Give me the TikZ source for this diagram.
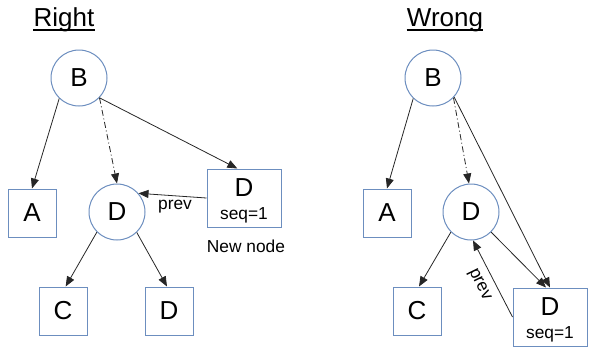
\documentclass[tikz,border=0pt]{standalone}
\usepackage{fontspec}
\setmainfont{Liberation Sans}
\usetikzlibrary{arrows.meta}
\definecolor{bblue}{HTML}{6C8EBF}
\begin{document}
\begin{tikzpicture}[x=0.75pt,y=-0.75pt,
 circ/.style={circle,draw=bblue,line width=0.75pt,minimum size=42pt,inner sep=0pt,font=\fontsize{19.5}{20}\selectfont},
 sq/.style={rectangle,draw=bblue,line width=0.75pt,minimum width=36pt,minimum height=36pt,inner sep=0pt,font=\fontsize{19.5}{20}\selectfont},
 newbox/.style={rectangle,draw=bblue,line width=0.75pt,minimum width=55.5pt,minimum height=43.5pt,inner sep=0pt},
 big/.style={inner sep=0pt,font=\fontsize{19.5}{20}\selectfont},
 lbl/.style={inner sep=0pt,font=\fontsize{13}{14}\selectfont},
 arr/.style={-{Triangle[length=7.5pt,width=6pt]},line width=0.6pt,draw=black!85},
 dd/.style={arr,dash pattern=on 4.5pt off 2pt on 0.75pt off 2pt},
 ttl/.style={font=\fontsize{19.5}{20}\selectfont,inner sep=0pt,anchor=base},
 uline/.style={line width=1.1pt}]
\useasboundingbox (0,0) rectangle (592,347);
% ---------- Right ----------
\node[ttl] (t1) at (64,26.5) {Right};
\draw[uline] ([yshift=-2.5pt]t1.base west) -- ([yshift=-2.5pt]t1.base east);
\node[circ] (B1) at (79,78) {B};
\node[sq] (A1) at (32,213) {A};
\node[circ] (D1) at (117,212) {D};
\node[sq] (C1) at (63,311) {C};
\node[sq] (E1) at (169,311) {D};
\node[newbox] (N1) at (244,198) {};
\node[big] (N1d) at (244,188) {D};
\node[lbl] (N1s) at (244,215) {seq=1};
\node[lbl] (new) at (246,246) {New node};
\draw[arr] (B1.226) -- (A1.north);
\draw[dd] (B1.316) -- (D1.north);
\draw[arr] (B1.316) -- ([xshift=-5pt]N1.north);
\draw[arr] (N1.west) -- (D1.41);
\node[lbl] (p1) at (175,207) {prev};
\draw[arr] (D1.225) -- ([xshift=2pt]C1.north);
\draw[arr] (D1.314) -- ([xshift=-1.5pt]E1.north);
% ---------- Wrong ----------
\node[ttl] (t2) at (445,26.5) {Wrong};
\draw[uline] ([yshift=-2.5pt]t2.base west) -- ([yshift=-2.5pt]t2.base east);
\node[circ] (B2) at (433,78) {B};
\node[sq] (A2) at (387,213) {A};
\node[circ] (D2) at (471,212) {D};
\node[sq] (C2) at (417,311) {C};
\node[newbox] (N2) at (550,317) {};
\node[big] (N2d) at (550,307) {D};
\node[lbl] (N2s) at (550,334) {seq=1};
\draw[arr] (B2.226) -- (A2.north);
\draw[dd] (B2.316) -- ([xshift=-1.5pt]D2.north);
\draw[arr] (B2.318) -- (N2.north);
\draw[arr] (D2.315) -- ([xshift=-3pt]N2.north);
\draw[arr] (D2.225) -- ([xshift=1.5pt]C2.north);
\draw[arr] (N2.west) -- (D2.274);
\node[lbl,rotate=-64] (p2) at (479,285) {prev};
\end{tikzpicture}
\end{document}
